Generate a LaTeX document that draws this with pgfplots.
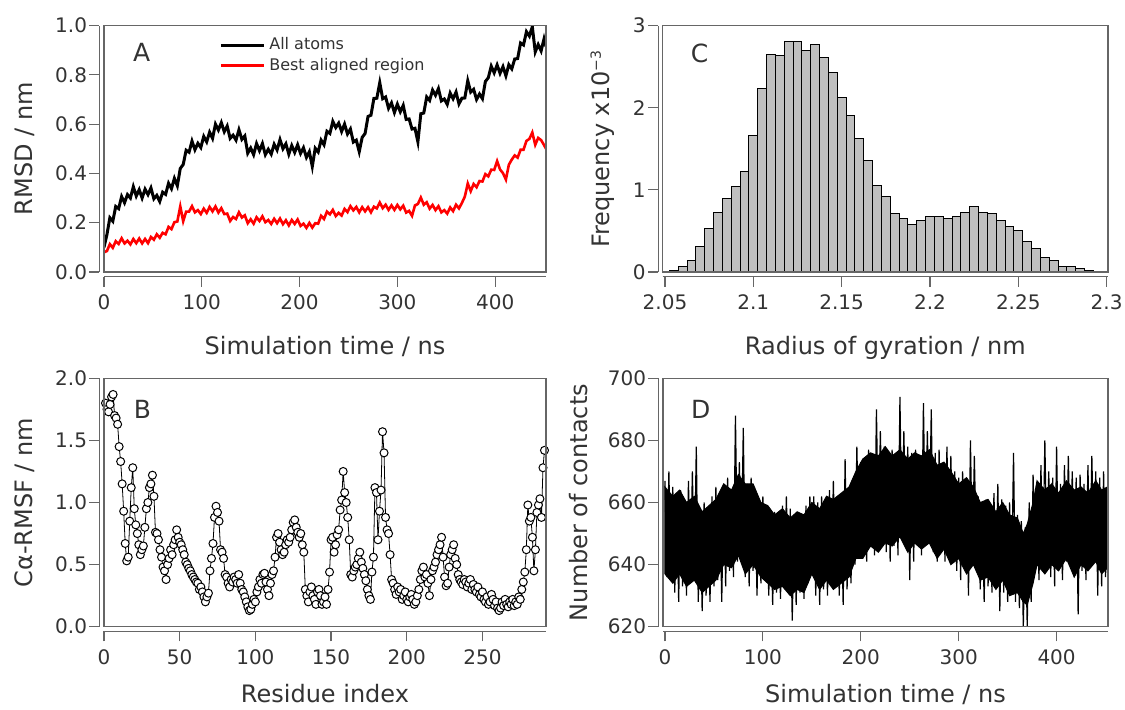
\documentclass[border=0pt]{standalone}
\usepackage{pgfplots}
\pgfplotsset{compat=1.18}
\usepackage{fontspec}
\setmainfont{DejaVu Sans}
\definecolor{framec}{gray}{0.4}
\definecolor{txt}{gray}{0.2}
\pgfplotsset{
 igor/.style={
  scale only axis,
  axis lines*=left,
  axis x line shift=2.3pt,
  axis y line shift=2.3pt,
  axis line style={framec, line width=0.6pt},
  every tick/.style={framec, line width=0.6pt},
  tick align=outside,
  major tick length=5pt,
  minor tick num=0,
  clip mode=individual,
  /pgf/number format/assume math mode=true,
  tick label style={font=\fontsize{10}{12}\selectfont, text=txt},
  label style={font=\fontsize{12}{14}\selectfont, text=txt},
  yticklabel style={inner sep=1pt},
  xticklabel style={inner sep=4pt},
 }
}
\begin{document}
\begin{tikzpicture}
\useasboundingbox (0,0) rectangle (562.5pt,354.5pt);
% ---------------- A ----------------
\begin{axis}[igor, at={(52pt,218.5pt)}, anchor=south west, width=221pt, height=123.25pt,
  xmin=0, xmax=452, ymin=0, ymax=1,
  xtick={0,100,200,300,400},
  ytick={0,0.2,0.4,0.6,0.8,1.0}, yticklabels={0.0,0.2,0.4,0.6,0.8,1.0},
  xlabel={Simulation time / ns}, ylabel={RMSD / nm},
  xlabel style={at={(axis description cs:0.5,-0.333)}, anchor=base},
  ylabel style={at={(axis description cs:-0.179,0.5)}, anchor=center},
  legend style={at={(axis description cs:0.26,0.968)}, anchor=north west, draw=none, fill=none,
    font=\fontsize{8}{9}\selectfont, text=txt, row sep=-1.5pt, inner sep=0pt},
  legend cell align=left,
  legend image code/.code={\draw[#1] (0pt,0pt) -- (21.5pt,0pt);},
]
\addplot[black, line width=1.5pt] table {
0 0.100
3 0.152
6 0.220
9 0.206
12 0.266
15 0.257
18 0.306
21 0.281
24 0.314
27 0.300
30 0.346
33 0.308
36 0.334
39 0.300
42 0.336
45 0.314
48 0.341
51 0.297
54 0.311
57 0.286
60 0.324
63 0.315
66 0.360
69 0.338
72 0.380
75 0.350
78 0.420
81 0.436
84 0.494
87 0.486
90 0.531
93 0.496
96 0.522
99 0.505
102 0.550
105 0.528
108 0.567
111 0.542
114 0.600
117 0.576
120 0.606
123 0.569
126 0.592
129 0.542
132 0.555
135 0.535
138 0.577
141 0.538
144 0.552
147 0.482
150 0.503
153 0.476
156 0.521
159 0.492
162 0.521
165 0.476
168 0.498
171 0.478
174 0.518
177 0.495
180 0.537
183 0.500
186 0.520
189 0.478
192 0.513
195 0.485
198 0.516
201 0.481
204 0.504
207 0.465
210 0.488
213 0.428
216 0.502
219 0.487
222 0.535
225 0.516
228 0.571
231 0.562
234 0.611
237 0.586
240 0.604
243 0.570
246 0.600
249 0.560
252 0.580
255 0.527
258 0.535
261 0.488
264 0.546
267 0.562
270 0.631
273 0.636
276 0.704
279 0.705
282 0.768
285 0.703
288 0.710
291 0.664
294 0.686
297 0.647
300 0.681
303 0.650
306 0.676
309 0.619
312 0.621
315 0.580
318 0.583
321 0.528
324 0.642
327 0.645
330 0.710
333 0.696
336 0.738
339 0.717
342 0.744
345 0.694
348 0.702
351 0.680
354 0.726
357 0.703
360 0.730
363 0.682
366 0.705
369 0.706
372 0.776
375 0.730
378 0.741
381 0.700
384 0.722
387 0.703
390 0.773
393 0.788
396 0.835
399 0.808
402 0.840
405 0.806
408 0.833
411 0.796
414 0.841
417 0.824
420 0.864
423 0.866
426 0.929
429 0.921
432 0.975
435 0.957
438 0.995
441 0.893
444 0.923
447 0.897
450 0.946
452 0.915
};
\addlegendentry{All atoms}
\addplot[red, line width=1.3pt] table {
0 0.080
3 0.085
6 0.113
9 0.098
12 0.125
15 0.114
18 0.137
21 0.116
24 0.127
27 0.112
30 0.134
33 0.117
36 0.136
39 0.116
42 0.134
45 0.117
48 0.142
51 0.131
54 0.153
57 0.139
60 0.159
63 0.153
66 0.183
69 0.174
72 0.202
75 0.205
78 0.266
81 0.206
84 0.245
87 0.245
90 0.267
93 0.242
96 0.251
99 0.235
102 0.257
105 0.240
108 0.264
111 0.246
114 0.266
117 0.241
120 0.259
123 0.235
126 0.237
129 0.207
132 0.223
135 0.215
138 0.242
141 0.221
144 0.230
147 0.198
150 0.214
153 0.196
156 0.222
159 0.207
162 0.226
165 0.202
168 0.211
171 0.195
174 0.216
177 0.198
180 0.217
183 0.194
186 0.210
189 0.189
192 0.211
195 0.195
198 0.213
201 0.187
204 0.196
207 0.179
210 0.199
213 0.180
216 0.198
219 0.196
222 0.228
225 0.215
228 0.245
231 0.234
234 0.252
237 0.227
240 0.240
243 0.229
246 0.256
249 0.243
252 0.267
255 0.250
258 0.264
261 0.242
264 0.263
267 0.246
270 0.263
273 0.242
276 0.265
279 0.258
282 0.282
285 0.259
288 0.273
291 0.252
294 0.270
297 0.252
300 0.272
303 0.254
306 0.269
309 0.241
312 0.248
315 0.228
318 0.270
321 0.276
324 0.302
327 0.273
330 0.283
333 0.257
336 0.272
339 0.251
342 0.267
345 0.242
348 0.251
351 0.237
354 0.262
357 0.247
360 0.273
363 0.258
366 0.280
369 0.306
372 0.359
375 0.328
378 0.357
381 0.344
384 0.369
387 0.367
390 0.397
393 0.388
396 0.415
399 0.414
402 0.450
405 0.416
408 0.401
411 0.375
414 0.435
417 0.456
420 0.473
423 0.464
426 0.496
429 0.496
432 0.532
435 0.540
438 0.566
441 0.516
444 0.544
447 0.535
450 0.515
452 0.500
};
\addlegendentry{Best aligned region}
\draw[framec, line width=0.6pt] (rel axis cs:0,0) rectangle (rel axis cs:1,1);
\node[font=\fontsize{12.5}{14}\selectfont, text=txt] at (rel axis cs:0.085,0.89) {A};
\end{axis}
% ---------------- C ----------------
\begin{axis}[igor, at={(331.35pt,218.5pt)}, anchor=south west, width=222.65pt, height=123.25pt,
  xmin=2.0487, xmax=2.3008, ymin=0, ymax=3,
  xtick={2.05,2.1,2.15,2.2,2.25,2.3}, xticklabels={2.05,2.1,2.15,2.2,2.25,2.3},
  ytick={0,1,2,3},
  xlabel={Radius of gyration / nm}, ylabel={Frequency x10\textsuperscript{\fontsize{7}{8}\selectfont −3}},
  xlabel style={at={(axis description cs:0.5,-0.333)}, anchor=base},
  ylabel style={at={(axis description cs:-0.135,0.5)}, anchor=center},
]
\addplot[ybar, bar width=0.005, bar shift=0pt, fill=black!25, draw=black, line width=0.5pt] coordinates {
(2.050,0.01) (2.055,0.02) (2.060,0.07) (2.065,0.14) (2.070,0.31) (2.075,0.53)
(2.080,0.72) (2.085,0.90) (2.090,1.04) (2.095,1.22) (2.100,1.66) (2.105,2.23)
(2.110,2.65) (2.115,2.63) (2.120,2.80) (2.125,2.80) (2.130,2.70) (2.135,2.77)
(2.140,2.61) (2.145,2.43) (2.150,2.12) (2.155,1.90) (2.160,1.63) (2.165,1.36)
(2.170,1.05) (2.175,0.92) (2.180,0.71) (2.185,0.65) (2.190,0.58) (2.195,0.63)
(2.200,0.68) (2.205,0.68) (2.210,0.65) (2.215,0.68) (2.220,0.73) (2.225,0.80)
(2.230,0.72) (2.235,0.71) (2.240,0.63) (2.245,0.55) (2.250,0.50) (2.255,0.37)
(2.260,0.29) (2.265,0.18) (2.270,0.14) (2.275,0.07) (2.280,0.07) (2.285,0.04)
(2.290,0.02) (2.295,0.01)
};
\draw[framec, line width=0.6pt] (rel axis cs:0,0) rectangle (rel axis cs:1,1);
\node[font=\fontsize{12.5}{14}\selectfont, text=txt] at (rel axis cs:0.083,0.887) {C};
\end{axis}
% ---------------- B ----------------
\begin{axis}[igor, at={(52pt,41.15pt)}, anchor=south west, width=221pt, height=124.2pt,
  xmin=0, xmax=292, ymin=0, ymax=2,
  xtick={0,50,100,150,200,250},
  ytick={0,0.5,1,1.5,2}, yticklabels={0.0,0.5,1.0,1.5,2.0},
  xlabel={Residue index}, ylabel={Cα-RMSF / nm},
  xlabel style={at={(axis description cs:0.5,-0.307)}, anchor=base},
  ylabel style={at={(axis description cs:-0.179,0.5)}, anchor=center},
]
\addplot[black, line width=0.4pt, mark=*, mark size=2pt, mark options={fill=white, draw=black, line width=0.5pt}] table {
1 1.80
2 1.75
3 1.73
4 1.79
5 1.85
6 1.87
7 1.70
8 1.68
9 1.63
10 1.45
11 1.33
12 1.15
13 0.93
14 0.67
15 0.53
16 0.56
17 0.85
18 1.12
19 1.28
20 0.95
21 0.82
22 0.75
23 0.66
24 0.58
25 0.62
26 0.65
27 0.80
28 0.95
29 1.00
30 1.12
31 1.15
32 1.22
33 1.05
34 0.76
35 0.75
36 0.70
37 0.62
38 0.56
39 0.48
40 0.45
41 0.38
42 0.50
43 0.55
44 0.62
45 0.58
46 0.66
47 0.70
48 0.78
49 0.72
50 0.68
51 0.66
52 0.62
53 0.58
54 0.52
55 0.50
56 0.47
57 0.45
58 0.42
59 0.40
60 0.38
61 0.36
62 0.35
63 0.30
64 0.32
65 0.28
66 0.24
67 0.20
68 0.24
69 0.27
70 0.45
71 0.55
72 0.67
73 0.88
74 0.97
75 0.92
76 0.85
77 0.62
78 0.60
79 0.55
80 0.42
81 0.40
82 0.35
83 0.32
84 0.38
85 0.36
86 0.40
87 0.38
88 0.35
89 0.42
90 0.35
91 0.30
92 0.28
93 0.24
94 0.20
95 0.16
96 0.13
97 0.14
98 0.18
99 0.22
100 0.20
101 0.28
102 0.32
103 0.38
104 0.35
105 0.42
106 0.43
107 0.36
108 0.30
109 0.25
110 0.35
111 0.42
112 0.45
113 0.56
114 0.72
115 0.75
116 0.68
117 0.62
118 0.58
119 0.60
120 0.66
121 0.70
122 0.68
123 0.72
124 0.78
125 0.84
126 0.86
127 0.80
128 0.76
129 0.72
130 0.75
131 0.66
132 0.60
133 0.30
134 0.25
135 0.20
136 0.28
137 0.32
138 0.25
139 0.22
140 0.18
141 0.28
142 0.30
143 0.25
144 0.18
145 0.20
146 0.24
147 0.18
148 0.30
149 0.44
150 0.70
151 0.72
152 0.60
153 0.66
154 0.74
155 0.78
156 0.94
157 1.02
158 1.25
159 1.08
160 1.00
161 0.88
162 0.70
163 0.42
164 0.40
165 0.45
166 0.48
167 0.50
168 0.55
169 0.60
170 0.52
171 0.47
172 0.42
173 0.37
174 0.30
175 0.25
176 0.22
177 0.44
178 0.56
179 1.12
180 1.08
181 0.70
182 0.93
183 1.10
184 1.57
185 1.40
186 0.88
187 0.78
188 0.75
189 0.58
190 0.38
191 0.35
192 0.30
193 0.26
194 0.32
195 0.28
196 0.30
197 0.22
198 0.25
199 0.28
200 0.22
201 0.20
202 0.24
203 0.26
204 0.22
205 0.18
206 0.20
207 0.25
208 0.30
209 0.38
210 0.45
211 0.48
212 0.40
213 0.42
214 0.35
215 0.25
216 0.38
217 0.45
218 0.48
219 0.52
220 0.58
221 0.62
222 0.66
223 0.72
224 0.56
225 0.40
226 0.33
227 0.35
228 0.48
229 0.58
230 0.62
231 0.66
232 0.55
233 0.50
234 0.42
235 0.38
236 0.36
237 0.34
238 0.38
239 0.36
240 0.32
241 0.35
242 0.38
243 0.30
244 0.34
245 0.30
246 0.28
247 0.32
248 0.26
249 0.24
250 0.28
251 0.22
252 0.20
253 0.24
254 0.18
255 0.20
256 0.26
257 0.22
258 0.17
259 0.20
260 0.15
261 0.13
262 0.15
263 0.20
264 0.17
265 0.22
266 0.18
267 0.16
268 0.20
269 0.18
270 0.22
271 0.17
272 0.20
273 0.18
274 0.24
275 0.22
276 0.30
277 0.36
278 0.44
279 0.62
280 0.98
281 0.85
282 0.88
283 0.72
284 0.45
285 0.62
286 0.92
287 0.98
288 1.03
289 0.88
290 1.28
291 1.42
};
\draw[framec, line width=0.6pt] (rel axis cs:0,0) rectangle (rel axis cs:1,1);
\node[font=\fontsize{12.5}{14}\selectfont, text=txt, fill=white, inner sep=1pt] at (rel axis cs:0.087,0.876) {B};
\end{axis}
% ---------------- D ----------------
\begin{axis}[igor, at={(331.5pt,41.15pt)}, anchor=south west, width=222.5pt, height=124.2pt,
  xmin=-2, xmax=452.5, ymin=620, ymax=700,
  xtick={0,100,200,300,400},
  ytick={620,640,660,680,700},
  xlabel={Simulation time / ns}, ylabel={Number of contacts},
  xlabel style={at={(axis description cs:0.5,-0.307)}, anchor=base},
  ylabel style={at={(axis description cs:-0.19,0.5)}, anchor=center},
]
% dense core of the fluctuations (upper edge forward, lower edge back)
\addplot[fill=black, draw=black, line width=0.5pt] table {
0 665
8 662
15 664
22 660
30 662
38 657
45 659
52 661
60 666
68 664
75 669
82 666
90 666
98 660
105 659
112 656
120 658
128 655
135 657
142 656
150 660
158 658
165 662
172 661
180 663
188 665
195 670
202 674
210 676
218 675
225 678
232 675
240 677
248 674
255 676
262 675
270 677
278 672
285 673
292 670
300 666
308 668
315 665
322 660
330 661
338 657
345 660
352 656
360 655
366 650
370 653
376 660
380 667
388 664
395 666
402 663
410 667
418 664
425 665
432 663
440 667
446 664
452 665
452 639
446 637
440 641
432 638
425 640
418 636
410 642
402 638
395 640
388 637
380 640
376 634
370 627
366 628
360 631
352 630
345 635
338 632
330 636
322 635
315 640
308 637
300 642
292 640
285 645
278 642
270 647
262 645
255 647
248 644
240 649
232 646
225 647
218 644
210 646
202 642
195 642
188 636
180 634
172 632
165 635
158 632
150 637
142 631
135 632
128 630
120 633
112 632
105 634
98 636
90 640
82 637
75 643
68 639
60 640
52 635
45 633
38 631
30 635
22 633
15 637
8 634
0 637
} -- cycle;
\addplot[black, line width=0.6pt] table {
0 667
2 636
4 670
6 638
8 665
10 631
12 663
14 628
16 664
18 633
20 661
22 630
24 667
26 636
28 670
30 637
32 678
34 628
36 658
38 625
40 660
42 630
44 656
46 628
48 662
50 633
52 665
54 635
56 661
58 628
60 666
62 633
64 668
66 638
68 664
70 636
72 688
74 641
76 673
78 643
80 684
82 636
84 666
86 633
88 668
90 638
92 664
94 630
96 659
98 634
100 662
102 635
104 658
106 630
108 656
110 627
112 657
114 631
116 654
118 629
120 659
122 634
124 662
126 635
128 658
130 622
132 656
134 627
136 657
138 631
140 654
142 629
144 659
146 634
148 662
150 637
152 662
154 630
156 660
158 627
160 662
162 632
164 658
166 630
168 664
170 635
172 667
174 637
176 662
178 630
180 660
182 627
184 674
186 632
188 658
190 634
192 666
194 640
196 678
198 646
200 673
202 642
204 672
206 641
208 677
210 646
212 674
214 643
216 690
218 649
220 683
222 651
224 678
226 644
228 676
230 641
232 677
234 646
236 674
238 643
240 694
242 649
244 683
246 651
248 678
250 635
252 676
254 641
256 677
258 646
260 674
262 643
264 692
266 649
268 683
270 651
272 690
274 644
276 676
278 641
280 677
282 646
284 672
286 641
288 678
290 643
292 675
294 645
296 670
298 638
300 668
302 635
304 670
306 640
308 666
310 630
312 680
314 643
316 675
318 645
320 662
322 632
324 660
326 628
328 661
330 633
332 658
334 631
336 663
338 636
340 666
342 625
344 661
346 631
348 659
350 628
352 660
354 633
356 676
358 628
360 656
362 626
364 654
366 620
368 652
370 620
372 660
374 628
376 669
378 638
380 666
382 635
384 672
386 641
388 680
390 643
392 670
394 636
396 668
398 633
400 678
402 638
404 666
406 635
408 672
410 641
412 675
414 643
416 670
418 636
420 668
422 624
424 669
426 638
428 666
430 635
432 672
434 641
436 675
438 643
440 670
442 630
444 668
446 633
448 670
450 636
452 665
};
\draw[framec, line width=0.6pt] (rel axis cs:0,0) rectangle (rel axis cs:1,1);
\node[font=\fontsize{12.5}{14}\selectfont, text=txt, fill=white, inner sep=1pt] at (rel axis cs:0.085,0.876) {D};
\end{axis}
\end{tikzpicture}
\end{document}
